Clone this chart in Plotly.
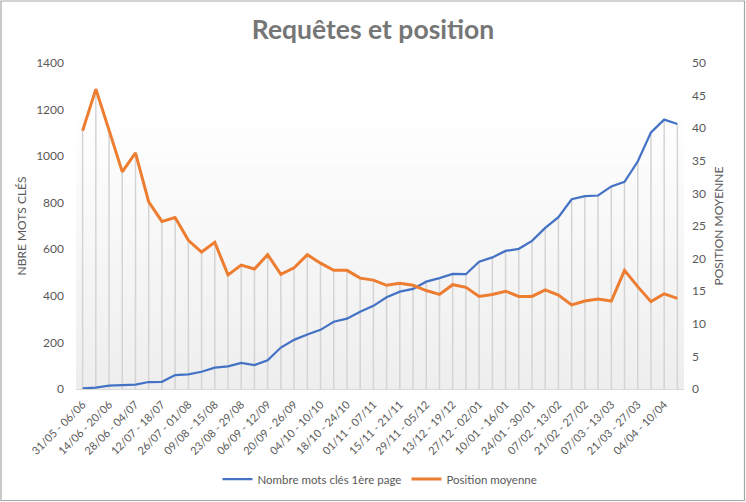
import plotly.graph_objects as go

weeks = [
    "31/05 - 06/06", "07/06 - 13/06", "14/06 - 20/06", "21/06 - 27/06", "28/06 - 04/07",
    "05/07 - 11/07", "12/07 - 18/07", "19/07 - 25/07", "26/07 - 01/08", "02/08 - 08/08",
    "09/08 - 15/08", "16/08 - 22/08", "23/08 - 29/08", "30/08 - 05/09", "06/09 - 12/09",
    "13/09 - 19/09", "20/09 - 26/09", "27/09 - 03/10", "04/10 - 10/10", "11/10 - 17/10",
    "18/10 - 24/10", "25/10 - 31/10", "01/11 - 07/11", "08/11 - 14/11", "15/11 - 21/11",
    "22/11 - 28/11", "29/11 - 05/12", "06/12 - 12/12", "13/12 - 19/12", "20/12 - 26/12",
    "27/12 - 02/01", "03/01 - 09/01", "10/01 - 16/01", "17/01 - 23/01", "24/01 - 30/01",
    "31/01 - 06/02", "07/02 - 13/02", "14/02 - 20/02", "21/02 - 27/02", "28/02 - 06/03",
    "07/03 - 13/03", "14/03 - 20/03", "21/03 - 27/03", "28/03 - 03/04", "04/04 - 10/04",
    "11/04 - 17/04",
]

nb_mots_cles = [3, 6, 14, 17, 19, 30, 31, 60, 63, 74, 92, 97, 112, 103, 123,
                178, 211, 234, 254, 289, 302, 332, 357, 394, 418, 430, 461, 476,
                494, 493, 547, 565, 593, 602, 636, 692, 738, 815, 828, 831, 870,
                890, 977, 1102, 1157, 1138]

position_moyenne = [39.6, 46.0, 39.7, 33.3, 36.2, 28.7, 25.7, 26.3, 22.8, 21.0,
                    22.5, 17.5, 19.0, 18.4, 20.6, 17.6, 18.6, 20.6, 19.3, 18.2,
                    18.2, 17.0, 16.7, 15.9, 16.2, 15.9, 15.1, 14.5, 16.0, 15.6,
                    14.2, 14.5, 15.0, 14.2, 14.2, 15.2, 14.4, 12.9, 13.5, 13.8,
                    13.5, 18.2, 15.7, 13.4, 14.6, 13.9]

left_max, right_max = 1400, 50
scale = left_max / right_max

FONT = "Lato, 'Open Sans', sans-serif"
GREY = "#595959"

W, H = 746, 502
L, R, T, B = 76, 62, 63, 113
pw, ph = W - L - R, H - T - B

def px_x(px):
    return (px - L) / pw

def px_y(py):
    return (H - B - py) / ph

x_idx = list(range(len(weeks)))

fig = go.Figure()

# drop lines (from highest point of the two series down to the axis)
dx, dy = [], []
for i, (a, b) in enumerate(zip(nb_mots_cles, position_moyenne)):
    top = max(a, b * scale)
    dx += [i, i, None]
    dy += [0, top, None]
fig.add_trace(go.Scatter(x=dx, y=dy, mode="lines", line=dict(color="#d4d4d4", width=1.5),
                         showlegend=False, hoverinfo="skip"))

fig.add_trace(go.Scatter(x=x_idx, y=nb_mots_cles, mode="lines", name="Nombre mots clés 1ère page",
                         line=dict(color="#4472C4", width=2.25)))
fig.add_trace(go.Scatter(x=x_idx, y=position_moyenne, mode="lines", name="Position moyenne",
                         line=dict(color="#ED7D31", width=3), yaxis="y2"))

# gradient background for plot area
shapes = []
n = 60
top_c, bot_c = (255, 255, 255), (238, 238, 238)
for k in range(n):
    t = k / (n - 1)
    c = tuple(round(bot_c[j] + (top_c[j] - bot_c[j]) * min(1, t * 1.15)) for j in range(3))
    shapes.append(dict(type="rect", xref="paper", yref="paper", x0=0, x1=1,
                       y0=k / n, y1=(k + 1) / n + 0.002, line=dict(width=0),
                       fillcolor="rgb(%d,%d,%d)" % c, layer="below"))
# chart border
shapes.append(dict(type="rect", xref="paper", yref="paper",
                   x0=px_x(1), x1=px_x(744.5), y0=px_y(500.5), y1=px_y(1),
                   line=dict(color="#a6a6a6", width=1.2), fillcolor="rgba(0,0,0,0)"))

fig.update_layout(
    width=W, height=H,
    margin=dict(l=L, r=R, t=T, b=B, autoexpand=False),
    paper_bgcolor="white", plot_bgcolor="rgba(0,0,0,0)",
    font=dict(family=FONT, color=GREY, size=12),
    title=dict(text="<b>Requêtes et position</b>", x=0.5, xanchor="center",
               y=1 - 30 / H, yanchor="middle", font=dict(size=26.5, color="#767676", family=FONT)),
    shapes=shapes,
    showlegend=True,
    legend=dict(orientation="h", x=0.5, xanchor="center", y=px_y(479), yanchor="middle",
                font=dict(size=11.5, color=GREY), itemwidth=30, tracegroupgap=0,
                bgcolor="rgba(0,0,0,0)"),
    xaxis=dict(range=[-0.5, len(weeks) - 0.5], tickmode="array",
               tickvals=x_idx[::2], ticktext=weeks[::2], tickangle=-45,
               showgrid=False, zeroline=False, showline=True, linecolor="#d9d9d9",
               linewidth=1, ticks="", tickfont=dict(size=11, color=GREY),
               ticklabelstandoff=4, automargin=False),
    yaxis=dict(range=[0, left_max], dtick=200, showgrid=False, zeroline=False,
               showline=False, ticks="", tickfont=dict(size=12, color=GREY),
               title=dict(text="NBRE MOTS CLÉS", font=dict(size=12, color=GREY), standoff=6),
               ticklabelstandoff=11, automargin=False),
    yaxis2=dict(range=[0, right_max], dtick=5, overlaying="y", side="right",
                showgrid=False, zeroline=False, showline=False, ticks="",
                tickfont=dict(size=12, color=GREY),
                title=dict(text="POSITION MOYENNE", font=dict(size=12, color=GREY), standoff=9),
                ticklabelstandoff=7, automargin=False),
)

fig.write_html("out.html")
